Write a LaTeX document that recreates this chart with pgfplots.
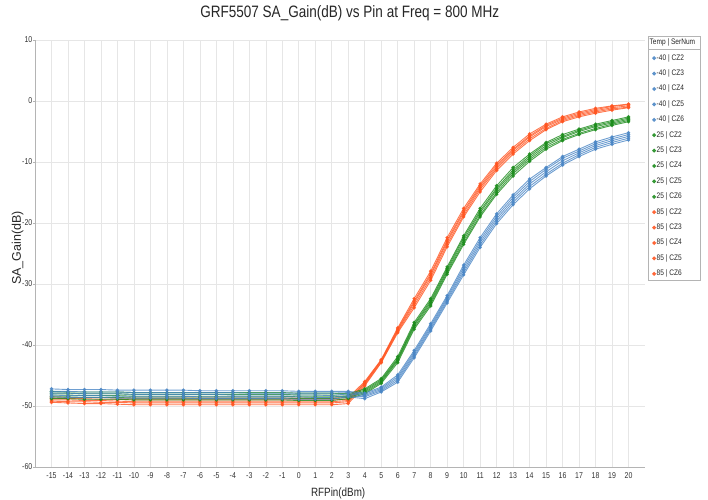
\documentclass[border=0pt]{standalone}
\usepackage{pgfplots}
\pgfplotsset{compat=1.18}
\usepackage{pgfplotstable}
\usepackage{fontspec}
\setmainfont{Liberation Sans}
\newfontfamily\narrowfont[FakeStretch=0.82]{Liberation Sans}

\definecolor{cblue}{HTML}{4A86C5}
\definecolor{cgreen}{HTML}{1C8C1C}
\definecolor{corange}{HTML}{FF5420}
\definecolor{gridgray}{HTML}{E6E6E6}
\definecolor{axgray}{HTML}{B4B4B4}

% Temp = -40
\pgfplotstableread{
x   CZ2   CZ3   CZ4   CZ5   CZ6
-15 -47.2 -47.6 -47.9 -48.2 -48.5
-14 -47.3 -47.6 -47.9 -48.3 -48.6
-13 -47.3 -47.7 -48.0 -48.3 -48.6
-12 -47.3 -47.7 -48.0 -48.3 -48.6
-11 -47.4 -47.7 -48.0 -48.4 -48.7
-10 -47.4 -47.8 -48.1 -48.4 -48.7
-9  -47.4 -47.8 -48.1 -48.4 -48.7
-8  -47.4 -47.8 -48.1 -48.4 -48.7
-7  -47.4 -47.8 -48.1 -48.4 -48.7
-6  -47.5 -47.8 -48.1 -48.5 -48.8
-5  -47.5 -47.8 -48.1 -48.5 -48.8
-4  -47.5 -47.8 -48.2 -48.5 -48.8
-3  -47.5 -47.9 -48.2 -48.5 -48.8
-2  -47.5 -47.9 -48.2 -48.5 -48.8
-1  -47.5 -47.9 -48.2 -48.5 -48.8
0   -47.6 -47.9 -48.2 -48.5 -48.9
1   -47.6 -47.9 -48.2 -48.6 -48.9
2   -47.6 -47.9 -48.3 -48.6 -48.9
3   -47.6 -47.8 -48.0 -48.3 -48.5
4   -47.9 -48.1 -48.3 -48.5 -48.8
5   -46.9 -47.1 -47.3 -47.5 -47.7
6   -44.9 -45.2 -45.5 -45.8 -46.1
7   -40.9 -41.2 -41.5 -41.8 -42.1
8   -36.5 -36.8 -37.1 -37.4 -37.7
9   -31.9 -32.2 -32.5 -32.8 -33.1
10  -26.9 -27.3 -27.7 -28.1 -28.5
11  -22.4 -22.8 -23.2 -23.6 -24.0
12  -18.5 -18.9 -19.3 -19.7 -20.1
13  -15.4 -15.8 -16.2 -16.6 -17.0
14  -12.8 -13.2 -13.6 -14.0 -14.4
15  -10.9 -11.2 -11.6 -12.0 -12.3
16  -9.1  -9.4  -9.8  -10.2 -10.5
17  -7.9  -8.2  -8.5  -8.8  -9.1
18  -6.7  -7.0  -7.3  -7.6  -7.9
19  -5.9  -6.2  -6.5  -6.8  -7.1
20  -5.2  -5.5  -5.8  -6.1  -6.4
}\tblcold

% Temp = 25
\pgfplotstableread{
x   CZ2   CZ3   CZ4   CZ5   CZ6
-15 -47.6 -47.9 -48.2 -48.5 -48.8
-14 -47.7 -47.9 -48.2 -48.5 -48.8
-13 -47.7 -48.0 -48.3 -48.6 -48.9
-12 -47.7 -48.0 -48.3 -48.6 -48.9
-11 -47.7 -48.0 -48.3 -48.6 -48.9
-10 -47.8 -48.1 -48.4 -48.7 -49.0
-9  -47.8 -48.1 -48.4 -48.7 -49.0
-8  -47.8 -48.1 -48.4 -48.7 -49.0
-7  -47.8 -48.1 -48.4 -48.7 -49.0
-6  -47.8 -48.1 -48.4 -48.7 -49.0
-5  -47.8 -48.1 -48.4 -48.7 -49.0
-4  -47.8 -48.1 -48.4 -48.7 -49.0
-3  -47.8 -48.1 -48.4 -48.7 -49.0
-2  -47.8 -48.1 -48.4 -48.7 -49.0
-1  -47.8 -48.1 -48.4 -48.7 -49.0
0   -47.9 -48.2 -48.5 -48.8 -49.1
1   -47.9 -48.2 -48.5 -48.8 -49.1
2   -47.9 -48.2 -48.5 -48.8 -49.1
3   -48.0 -48.2 -48.4 -48.6 -48.8
4   -47.2 -47.4 -47.6 -47.8 -48.0
5   -45.5 -45.7 -45.9 -46.1 -46.3
6   -41.9 -42.2 -42.4 -42.6 -42.9
7   -36.3 -36.6 -36.8 -37.1 -37.4
8   -32.4 -32.7 -33.0 -33.3 -33.6
9   -27.2 -27.5 -27.8 -28.1 -28.4
10  -22.1 -22.4 -22.8 -23.2 -23.5
11  -17.6 -18.0 -18.3 -18.7 -19.0
12  -13.9 -14.3 -14.6 -15.0 -15.3
13  -10.9 -11.3 -11.6 -11.9 -12.3
14  -8.7  -9.0  -9.3  -9.6  -9.9
15  -6.8  -7.0  -7.3  -7.6  -7.9
16  -5.5  -5.8  -6.0  -6.3  -6.5
17  -4.6  -4.8  -5.0  -5.3  -5.5
18  -3.8  -4.0  -4.2  -4.5  -4.7
19  -3.2  -3.4  -3.6  -3.8  -4.0
20  -2.6  -2.8  -3.0  -3.2  -3.4
}\tblroom

% Temp = 85
\pgfplotstableread{
x   CZ2   CZ3   CZ4   CZ5   CZ6
-15 -48.5 -48.7 -49.0 -49.2 -49.4
-14 -48.6 -48.8 -49.0 -49.3 -49.5
-13 -48.6 -48.8 -49.1 -49.3 -49.6
-12 -48.6 -48.9 -49.1 -49.4 -49.6
-11 -48.7 -48.9 -49.2 -49.4 -49.7
-10 -48.7 -49.0 -49.3 -49.5 -49.8
-9  -48.7 -49.0 -49.3 -49.5 -49.8
-8  -48.7 -49.0 -49.3 -49.5 -49.8
-7  -48.7 -49.0 -49.3 -49.5 -49.8
-6  -48.7 -49.0 -49.3 -49.5 -49.8
-5  -48.7 -49.0 -49.3 -49.5 -49.8
-4  -48.7 -49.0 -49.3 -49.5 -49.8
-3  -48.7 -49.0 -49.3 -49.5 -49.8
-2  -48.7 -49.0 -49.3 -49.5 -49.8
-1  -48.7 -49.0 -49.3 -49.5 -49.8
0   -48.7 -49.0 -49.3 -49.5 -49.8
1   -48.7 -49.0 -49.3 -49.5 -49.8
2   -48.7 -49.0 -49.3 -49.5 -49.8
3   -48.6 -48.9 -49.1 -49.3 -49.6
4   -46.0 -46.2 -46.3 -46.5 -46.7
5   -42.4 -42.5 -42.6 -42.8 -42.9
6   -37.2 -37.4 -37.6 -37.8 -38.0
7   -32.4 -32.8 -33.1 -33.5 -33.9
8   -27.9 -28.3 -28.6 -29.0 -29.4
9   -22.4 -22.8 -23.1 -23.5 -23.9
10  -17.6 -18.0 -18.3 -18.7 -19.0
11  -13.6 -13.9 -14.2 -14.5 -14.9
12  -10.2 -10.5 -10.8 -11.1 -11.4
13  -7.6  -7.9  -8.1  -8.4  -8.7
14  -5.4  -5.7  -5.9  -6.2  -6.5
15  -3.8  -4.0  -4.2  -4.5  -4.7
16  -2.6  -2.8  -3.0  -3.2  -3.4
17  -1.8  -2.0  -2.2  -2.4  -2.6
18  -1.2  -1.4  -1.6  -1.8  -2.0
19  -0.8  -0.9  -1.1  -1.3  -1.5
20  -0.5  -0.6  -0.8  -1.0  -1.1
}\tblhot

\begin{document}
\begin{tikzpicture}
\begin{axis}[
  name=ax,
  scale only axis,
  width=610pt, height=427pt,
  xmin=-16, xmax=21,
  ymin=-60, ymax=10,
  xtick={-15,...,20},
  ytick={-60,-50,...,10},
  axis lines=left,
  axis line style={-, draw=axgray, line width=0.8pt},
  grid=major,
  grid style={draw=gridgray, line width=0.6pt},
  tick align=outside,
  major tick length=2pt,
  xtick style={draw=none},
  ytick style={draw=axgray},
  /pgf/number format/assume math mode=true,
  ticklabel style={font=\narrowfont\fontsize{8.5}{10}\selectfont, text=black!80},
  xticklabel style={inner sep=1pt, yshift=-2pt},
  yticklabel style={inner sep=0.5pt},
  title={GRF5507 SA\_Gain(dB) vs Pin at Freq = 800 MHz},
  title style={font=\narrowfont\fontsize{16.5}{18}\selectfont, text=black!85,
    at={(axis description cs:0.516,1)}, anchor=base, yshift=16.5pt},
  xlabel={RFPin(dBm)},
  xlabel style={font=\narrowfont\fontsize{12}{14}\selectfont, text=black!85,
    at={(axis description cs:0.497,0)}, anchor=base, yshift=-30pt},
  ylabel={SA\_Gain(dB)},
  ylabel style={font=\fontsize{12.5}{14}\selectfont, text=black!85,
    at={(axis description cs:-0.023,0.513)}, anchor=base},
  legend cell align=left,
  legend image code/.code={\fill[#1] (0pt,0pt) circle (1.5pt);},
  legend style={name=leg, at={(1,1)}, anchor=north west, xshift=3pt, yshift=4pt,
    draw=axgray, fill=white, inner xsep=4pt, inner ysep=2.5pt,
    font=\narrowfont\fontsize{8}{9}\selectfont, text=black!85,
    row sep=7.2pt, column sep=0pt,
    nodes={inner sep=0.6pt, text height=5.5pt, text depth=1.5pt}},
]
\addlegendimage{empty legend}
\addlegendentry{\hspace*{-7pt}Temp | SerNum}
\pgfplotsinvokeforeach{CZ2,CZ3,CZ4,CZ5,CZ6}{
  \addlegendimage{cblue}
  \addlegendentry{-40 | #1}
}
\pgfplotsinvokeforeach{CZ2,CZ3,CZ4,CZ5,CZ6}{
  \addlegendimage{cgreen}
  \addlegendentry{25 | #1}
}
\pgfplotsinvokeforeach{CZ2,CZ3,CZ4,CZ5,CZ6}{
  \addlegendimage{corange}
  \addlegendentry{85 | #1}
}

\pgfplotsset{every axis plot/.append style={line width=0.9pt, mark=*, mark size=1.3pt, opacity=0.8}}
\pgfplotsinvokeforeach{CZ2,CZ3,CZ4,CZ5,CZ6}{
  \addplot[corange, forget plot] table[x=x, y=#1] {\tblhot};
}
\pgfplotsinvokeforeach{CZ2,CZ3,CZ4,CZ5,CZ6}{
  \addplot[cgreen, forget plot] table[x=x, y=#1] {\tblroom};
}
\pgfplotsinvokeforeach{CZ2,CZ3,CZ4,CZ5,CZ6}{
  \addplot[cblue, forget plot] table[x=x, y=#1] {\tblcold};
}
\end{axis}
\draw[axgray, line width=0.6pt] ([yshift=-13pt]leg.north west) -- ([yshift=-13pt]leg.north east);
\pgfresetboundingbox
\path[use as bounding box] ([shift={(-35pt,-33pt)}]ax.south west) rectangle ([shift={(63pt,40pt)}]ax.north east);
\end{tikzpicture}
\end{document}
